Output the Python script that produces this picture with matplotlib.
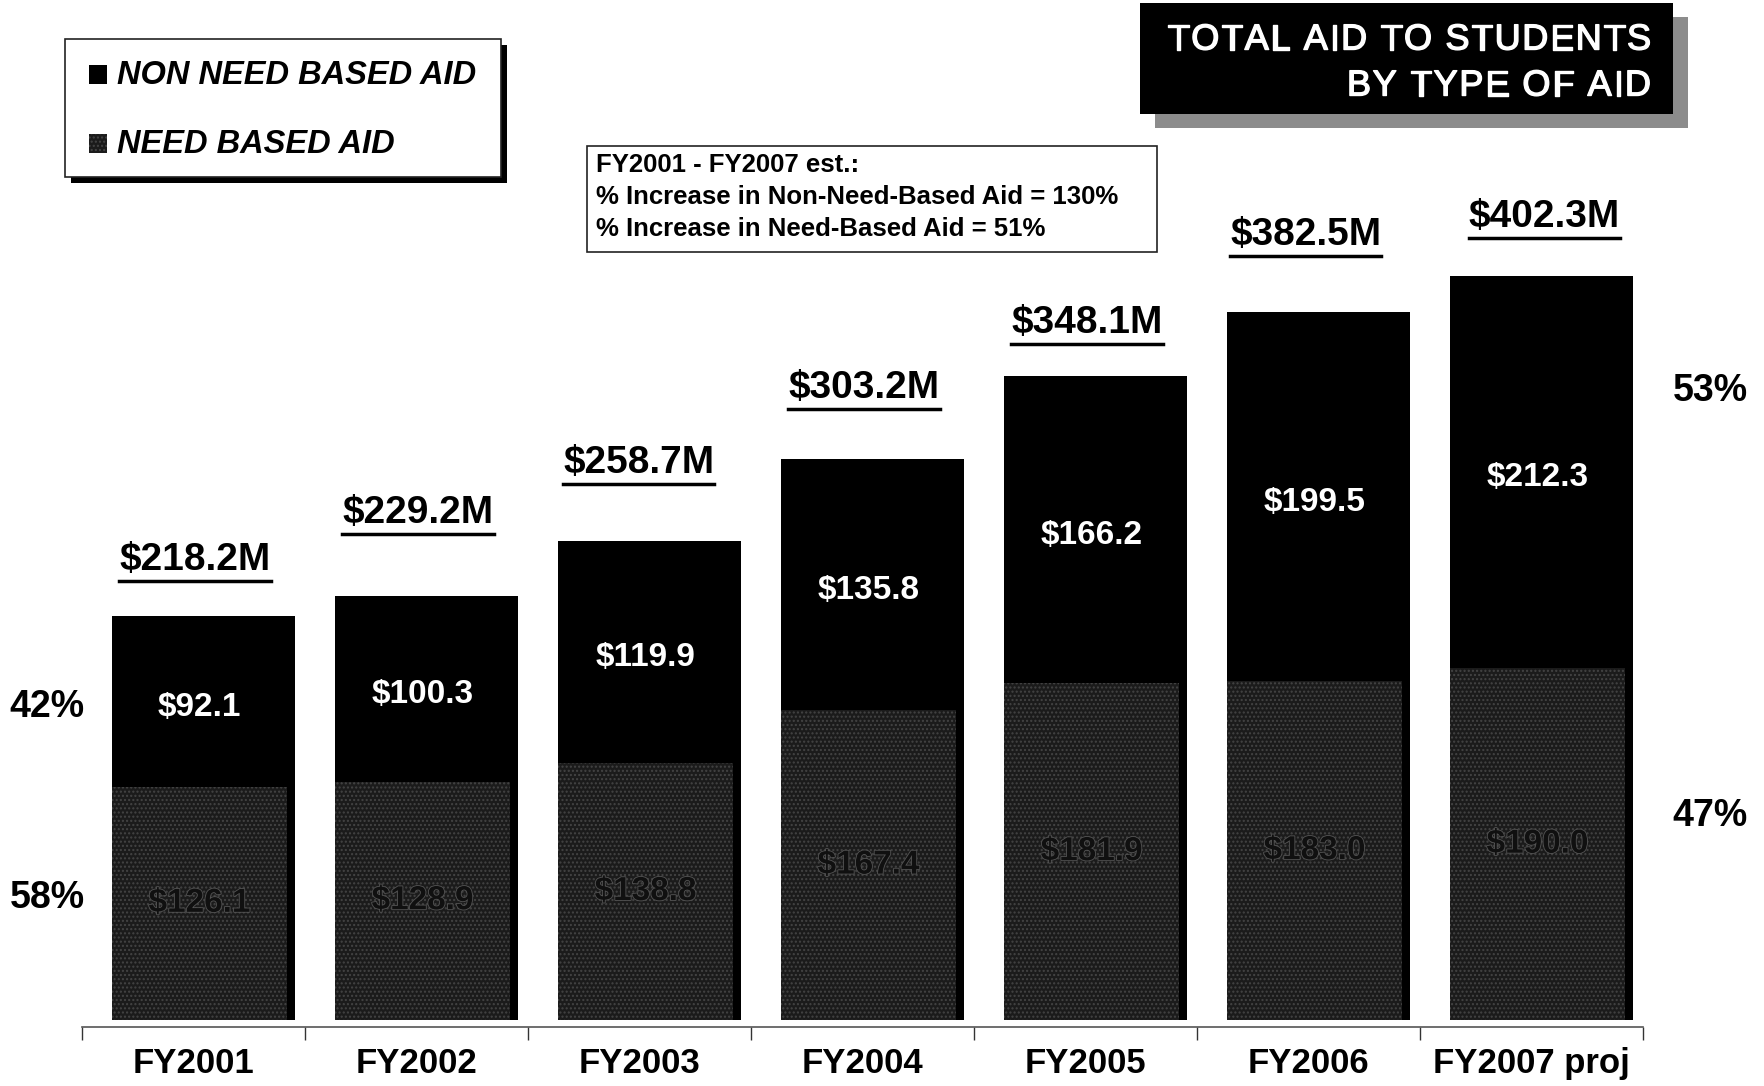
import matplotlib
matplotlib.use("Agg")
import matplotlib.pyplot as plt
from matplotlib.patches import Rectangle
import matplotlib.patheffects as pe

plt.rcParams['font.family'] = ['Liberation Sans', 'DejaVu Sans']
plt.rcParams['hatch.linewidth'] = 1.0

years = ["FY2001", "FY2002", "FY2003", "FY2004", "FY2005", "FY2006", "FY2007 proj"]
non_need = [92.1, 100.3, 119.9, 135.8, 166.2, 199.5, 212.3]
need = [126.1, 128.9, 138.8, 167.4, 181.9, 183.0, 190.0]
totals = [218.2, 229.2, 258.7, 303.2, 348.1, 382.5, 402.3]
left_pct = ["42%", "58%"]
right_pct = ["53%", "47%"]
note_lines = ["FY2001 - FY2007 est.:",
              "% Increase in Non-Need-Based Aid = 130%",
              "% Increase in Need-Based Aid = 51%"]

# vertical gap (data units) between each bar top and its total label
total_gap = [30.5, 45, 42.5, 38.5, 28.5, 42, 31.5]
total_dx = [0.0, 0.0, -0.01, 0.0, 0.0, -0.02, 0.05]

W, H = 1764, 1086
fig = plt.figure(figsize=(W / 100, H / 100), dpi=100)
fig.patch.set_facecolor("white")


def fx(px):
    return px / W


def fy(py):
    return 1 - py / H


def frect(x0, y0, x1, y1, **kw):
    r = Rectangle((fx(x0), fy(y1)), fx(x1) - fx(x0), fy(y0) - fy(y1),
                  transform=fig.transFigure, **kw)
    fig.add_artist(r)
    return r


def spaced_text(x_right, y, s, size, gap_px, effects=None, **kw):
    """Right-aligned text with extra tracking between letters."""
    renderer = fig.canvas.get_renderer()
    widths = []
    for ch in s:
        if ch == " ":
            probe = fig.text(0, 0, "a a", fontsize=size, **kw)
            w2 = probe.get_window_extent(renderer).width
            probe.remove()
            probe = fig.text(0, 0, "aa", fontsize=size, **kw)
            w1 = probe.get_window_extent(renderer).width
            probe.remove()
            widths.append(w2 - w1)
        else:
            probe = fig.text(0, 0, ch, fontsize=size, **kw)
            widths.append(probe.get_window_extent(renderer).width)
            probe.remove()
    total = sum(widths) + gap_px * (len(s) - 1)
    xpos = x_right - total
    for ch, w in zip(s, widths):
        if ch != " ":
            fig.text(fx(xpos), fy(y), ch, fontsize=size, ha="left",
                     va="center", path_effects=effects, **kw)
        xpos += w + gap_px


base_px = 1020
ax = fig.add_axes([fx(82), fy(base_px), fx(1643) - fx(82), base_px / H])
ax.set_xlim(-0.5, len(years) - 0.5)
ax.set_ylim(0, 551.3)
ax.patch.set_alpha(0)

x = range(len(years))
off, bw, sw = 0.027, 0.785, 0.038
need_col = "#1b1b1b"
for i in x:
    xc = i + off
    # side shading of the bar
    ax.add_patch(Rectangle((xc + bw / 2 - 0.002, 0), sw, totals[i],
                           facecolor="black", edgecolor="none", zorder=1))
    ax.bar(xc, need[i], width=bw, color=need_col, edgecolor="#444444",
           hatch="....", linewidth=0, zorder=2)
    ax.bar(xc, non_need[i], width=bw, bottom=need[i], color="black",
           edgecolor="none", zorder=2)
    ax.text(xc, need[i] + non_need[i] / 2 - 3, f"${non_need[i]:.1f}",
            ha="center", va="center", color="white", fontsize=24,
            fontweight="bold", zorder=4)
    ax.text(xc, need[i] / 2, f"${need[i]:.1f}", ha="center", va="center",
            color="#101010", fontsize=24, fontweight="bold", zorder=4,
            path_effects=[pe.withStroke(linewidth=1.2, foreground="#555555")])

total_texts = []
for i in x:
    t = ax.text(i + off - 0.02 + total_dx[i], totals[i] + total_gap[i],
                f"${totals[i]:.1f}M", ha="center", va="center",
                color="black", fontsize=28, fontweight="bold", zorder=4)
    total_texts.append(t)

for s in ["top", "right", "left"]:
    ax.spines[s].set_visible(False)
ax.spines["bottom"].set_position(("outward", 5))
ax.spines["bottom"].set_color("#555555")
ax.spines["bottom"].set_linewidth(1.2)
ax.set_yticks([])
ax.set_xticks([i - 0.5 for i in range(len(years) + 1)])
ax.set_xticklabels([])
ax.set_xticks(list(x), minor=True)
ax.set_xticklabels(years, minor=True, fontsize=25, fontweight="bold")
ax.tick_params(axis="x", which="major", length=9, width=1, color="#333333",
               direction="out")
ax.tick_params(axis="x", which="minor", length=0, pad=14.5)

# underline the totals
fig.canvas.draw()
renderer = fig.canvas.get_renderer()
for t in total_texts:
    bb = t.get_window_extent(renderer)
    yline = bb.y0 - 3
    fig.add_artist(plt.Line2D([bb.x0 / W, bb.x1 / W], [yline / H, yline / H],
                              transform=fig.transFigure, color="black",
                              linewidth=2.5))

# percentage labels on both sides
fig.text(fx(47), fy(707), left_pct[0], ha="center", va="center",
         fontsize=27, fontweight="bold")
fig.text(fx(47), fy(898), left_pct[1], ha="center", va="center",
         fontsize=27, fontweight="bold")
fig.text(fx(1710), fy(391), right_pct[0], ha="center", va="center",
         fontsize=27, fontweight="bold")
fig.text(fx(1710), fy(816), right_pct[1], ha="center", va="center",
         fontsize=27, fontweight="bold")

# legend box
frect(71, 45, 507, 183, facecolor="black", edgecolor="none")
frect(65, 39, 501, 177, facecolor="white", edgecolor="#222222", linewidth=1.2)
frect(89, 65, 107, 84, facecolor="black", edgecolor="none")
frect(89, 134, 107, 153, facecolor=need_col, edgecolor="#444444",
      hatch="....", linewidth=0)
fig.text(fx(117), fy(76), "NON NEED BASED AID", ha="left", va="center",
         fontsize=23.5, fontweight="bold", fontstyle="italic")
fig.text(fx(117), fy(145), "NEED BASED AID", ha="left", va="center",
         fontsize=23.5, fontweight="bold", fontstyle="italic")

# title box
frect(1155, 17, 1688, 128, facecolor="#8c8c8c", edgecolor="none")
frect(1140, 3, 1673, 114, facecolor="black", edgecolor="none")
heavy = [pe.withStroke(linewidth=1.0, foreground="white")]
spaced_text(1651, 40, "TOTAL AID TO STUDENTS", 26, 1.6, effects=heavy,
            color="white")
spaced_text(1651, 86, "BY TYPE OF AID", 26, 1.6, effects=heavy,
            color="white")

# note box
frect(587, 146, 1157, 252, facecolor="white", edgecolor="#222222",
      linewidth=1.2)
for k, line in enumerate(note_lines):
    fig.text(fx(596), fy(165 + 32 * k), line, ha="left", va="center",
             fontsize=18.5, fontweight="bold")

fig.savefig("out.png", dpi=100, facecolor="white")
